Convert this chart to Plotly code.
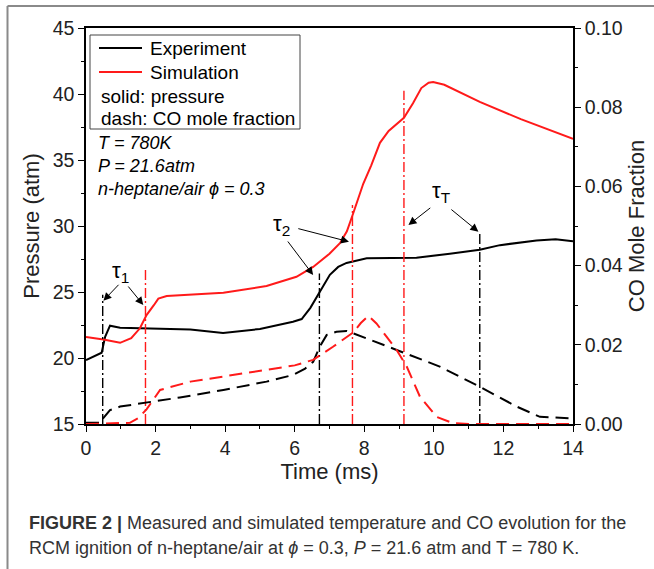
import plotly.graph_objects as go

# ---------------- data ----------------
exp_t = [0, 0.45, 0.55, 0.69, 0.98, 2.0, 3.0, 3.94, 5.0, 5.95, 6.2, 6.45, 6.68, 7.01, 7.25, 7.49, 8.07, 9.5, 10.46, 11.32, 11.9, 12.95, 13.5, 14]
exp_p = [19.85, 20.4, 21.6, 22.45, 22.3, 22.2, 22.15, 21.9, 22.2, 22.75, 22.95, 23.8, 24.8, 26.3, 26.9, 27.2, 27.55, 27.6, 27.9, 28.2, 28.55, 28.9, 29.0, 28.85]

sim_t = [0, 0.5, 0.98, 1.3, 1.55, 1.74, 1.95, 2.08, 2.32, 3.0, 3.95, 5.19, 6.05, 6.53, 7.0, 7.3, 7.5, 7.68, 7.97, 8.2, 8.45, 8.7, 9.14, 9.4, 9.64, 9.85, 9.98, 10.3, 11.32, 12.5, 14]
sim_p = [21.6, 21.4, 21.15, 21.5, 22.25, 23.25, 24.0, 24.5, 24.7, 24.8, 24.95, 25.45, 26.15, 26.9, 27.9, 28.7, 29.6, 30.95, 33.2, 34.6, 36.3, 37.2, 38.2, 39.3, 40.45, 40.85, 40.9, 40.7, 39.4, 38.1, 36.6]

eco_t = [0, 0.3, 0.45, 0.48, 0.69, 0.98, 1.74, 2.7, 3.95, 5.19, 5.96, 6.3, 6.53, 6.72, 6.92, 7.2, 7.49, 7.68, 8.93, 10.17, 11.32, 12.38, 13.05, 14]
eco_x = [0.0003, 0.0003, 0.0003, 0.0013, 0.0035, 0.0044, 0.0054, 0.0067, 0.0086, 0.0107, 0.0124, 0.014, 0.0157, 0.0195, 0.0225, 0.0233, 0.0235, 0.0229, 0.0187, 0.0145, 0.0094, 0.0044, 0.0018, 0.0014]

sco_t = [0, 1.26, 1.5, 1.74, 2.13, 3.0, 3.95, 5.19, 6.0, 6.53, 7.1, 7.68, 7.9, 8.12, 8.35, 8.93, 9.22, 9.6, 10.08, 10.55, 11, 12, 13, 14]
sco_x = [0, 0.0003, 0.0015, 0.0037, 0.0086, 0.0107, 0.012, 0.0136, 0.0148, 0.0162, 0.0195, 0.0231, 0.0255, 0.0273, 0.0254, 0.0187, 0.0145, 0.0069, 0.0018, 0.0002, 0, 0, 0, 0]

# ignition-delay marker lines (time, top pressure, colour)
tau_t = [0.48, 1.71, 6.71, 7.66, 9.14, 11.32]
tau_top = [24.8, 26.8, 26.4, 31.6, 40.25, 29.5]
tau_col = ["black", "red", "black", "red", "red", "black"]

# arrows: (tail_t, tail_p, tip_t, tip_p)
arrows = [
    (0.977, 25.66, 0.50, 24.34),
    (1.18, 25.53, 1.647, 24.02),
    (5.77, 28.94, 6.53, 26.29),
    (6.06, 29.83, 7.56, 28.81),
    (9.94, 31.46, 9.27, 30.08),
    (10.46, 31.34, 11.28, 29.57),
]
tau_labels = [("τ<sub>1</sub>", 0.98, 26.5), ("τ<sub>2</sub>", 5.62, 30.05), ("τ<sub>T</sub>", 10.22, 32.55)]

x_ticks = [0, 2, 4, 6, 8, 10, 12, 14]
p_ticks = [15, 20, 25, 30, 35, 40, 45]
co_ticks = [0.00, 0.02, 0.04, 0.06, 0.08, 0.10]

RED = "#ff1a1a"
FONT = "Liberation Sans, Arial, sans-serif"

fig = go.Figure()

fig.add_trace(go.Scatter(x=exp_t, y=exp_p, mode="lines", line=dict(color="black", width=2), showlegend=False))
fig.add_trace(go.Scatter(x=sim_t, y=sim_p, mode="lines", line=dict(color=RED, width=2), showlegend=False))
fig.add_trace(go.Scatter(x=eco_t, y=eco_x, mode="lines", yaxis="y2",
                         line=dict(color="black", width=2, dash="13px,7px"), showlegend=False))
fig.add_trace(go.Scatter(x=sco_t, y=sco_x, mode="lines", yaxis="y2",
                         line=dict(color=RED, width=2, dash="13px,7px"), showlegend=False))

for t, top, c in zip(tau_t, tau_top, tau_col):
    fig.add_trace(go.Scatter(x=[t, t], y=[15, top], mode="lines",
                             line=dict(color=(RED if c == "red" else "black"), width=1.4, dash="10px,3px,2px,3px"),
                             showlegend=False))

annotations = []
for (xt, yt, xh, yh) in arrows:
    annotations.append(dict(x=xh, y=yh, ax=xt, ay=yt, xref="x", yref="y", axref="x", ayref="y",
                            text="", showarrow=True, arrowhead=2, arrowsize=1.6, arrowwidth=1, arrowcolor="black"))
for txt, xt, yt in tau_labels:
    annotations.append(dict(x=xt, y=yt, xref="x", yref="y", text=txt, showarrow=False,
                            font=dict(family=FONT, size=22, color="black")))

# condition text
cond = [("<i>T = 780K</i>", 36.3), ("<i>P = 21.6atm</i>", 34.55), ("<i>n-heptane/air ϕ = 0.3</i>", 32.8)]
for txt, yv in cond:
    annotations.append(dict(x=0.28, y=yv, xref="x", yref="y", text=txt, showarrow=False,
                            xanchor="left", yanchor="middle", font=dict(family=FONT, size=18, color="black")))

W, H = 654, 569
L, R, T, B = 86, 573, 28, 424
def px(xp):
    return (xp - L) / (R - L)
def py(yp):
    return (B - yp) / (B - T)

# legend (manual)
shapes = [
    dict(type="rect", xref="paper", yref="paper", x0=px(90), x1=px(300), y0=py(35), y1=py(129),
         line=dict(color="#444", width=1), fillcolor="white", layer="above"),
    dict(type="line", xref="paper", yref="paper", x0=px(99), x1=px(142), y0=py(48), y1=py(48),
         line=dict(color="black", width=2)),
    dict(type="line", xref="paper", yref="paper", x0=px(99), x1=px(142), y0=py(72), y1=py(72),
         line=dict(color=RED, width=2)),
    # outer figure frame (grey)
    dict(type="line", xref="paper", yref="paper", x0=px(7.5), x1=px(7.5), y0=py(6), y1=py(569),
         line=dict(color="#8a8a8a", width=2)),
    dict(type="line", xref="paper", yref="paper", x0=px(7.5), x1=px(654), y0=py(6), y1=py(6),
         line=dict(color="#8a8a8a", width=2)),
]
leg_txt = [("Experiment", 148, 48), ("Simulation", 148, 72), ("solid: pressure", 99, 96), ("dash: CO mole fraction", 99, 119)]
for txt, xp_, yp_ in leg_txt:
    annotations.append(dict(x=px(xp_), y=py(yp_), xref="paper", yref="paper", text=txt, showarrow=False,
                            xanchor="left", yanchor="middle", font=dict(family=FONT, size=19, color="black")))

# caption
annotations.append(dict(x=px(27), y=py(523), xref="paper", yref="paper",
                        text="<b>FIGURE 2 |</b> Measured and simulated temperature and CO evolution for the",
                        showarrow=False, xanchor="left", yanchor="middle",
                        font=dict(family=FONT, size=18, color="#333333")))
annotations.append(dict(x=px(27), y=py(548), xref="paper", yref="paper",
                        text="RCM ignition of n-heptane/air at <i>ϕ</i> = 0.3, <i>P</i> = 21.6 atm and T = 780 K.",
                        showarrow=False, xanchor="left", yanchor="middle",
                        font=dict(family=FONT, size=18, color="#333333")))

fig.update_layout(
    width=W, height=H, margin=dict(l=L, r=W - R, t=T, b=H - B, autoexpand=False),
    paper_bgcolor="white", plot_bgcolor="white",
    font=dict(family=FONT, size=19.5, color="#222"),
    xaxis=dict(range=[0, 14], tickvals=x_ticks, showline=True, linecolor="black", linewidth=1.5,
               mirror=True, ticks="outside", ticklen=6, tickwidth=1.2, tickcolor="black",
               minor=dict(ticks="outside", ticklen=3, dtick=1, tickcolor="black"),
               showgrid=False, zeroline=False, automargin=False,
               title=dict(text="Time (ms)", font=dict(size=22), standoff=2)),
    yaxis=dict(range=[15, 45], tickvals=p_ticks, showline=True, linecolor="black", linewidth=1.5,
               ticks="outside", ticklen=6, tickwidth=1.2, tickcolor="black",
               minor=dict(ticks="outside", ticklen=3, dtick=2.5, tickcolor="black"),
               showgrid=False, zeroline=False, automargin=False,
               title=dict(text="Pressure (atm)", font=dict(size=22), standoff=7)),
    yaxis2=dict(range=[0, 0.1], tickvals=co_ticks, tickformat=".2f", overlaying="y", side="right",
                showline=True, linecolor="black", linewidth=1.5,
                ticks="outside", ticklen=6, tickwidth=1.2, tickcolor="black",
                minor=dict(ticks="outside", ticklen=3, dtick=0.01, tickcolor="black"),
                showgrid=False, zeroline=False, automargin=False,
                title=dict(text="CO Mole Fraction", font=dict(size=22), standoff=7)),
    shapes=shapes, annotations=annotations, showlegend=False,
)

fig.write_html("out.html")
